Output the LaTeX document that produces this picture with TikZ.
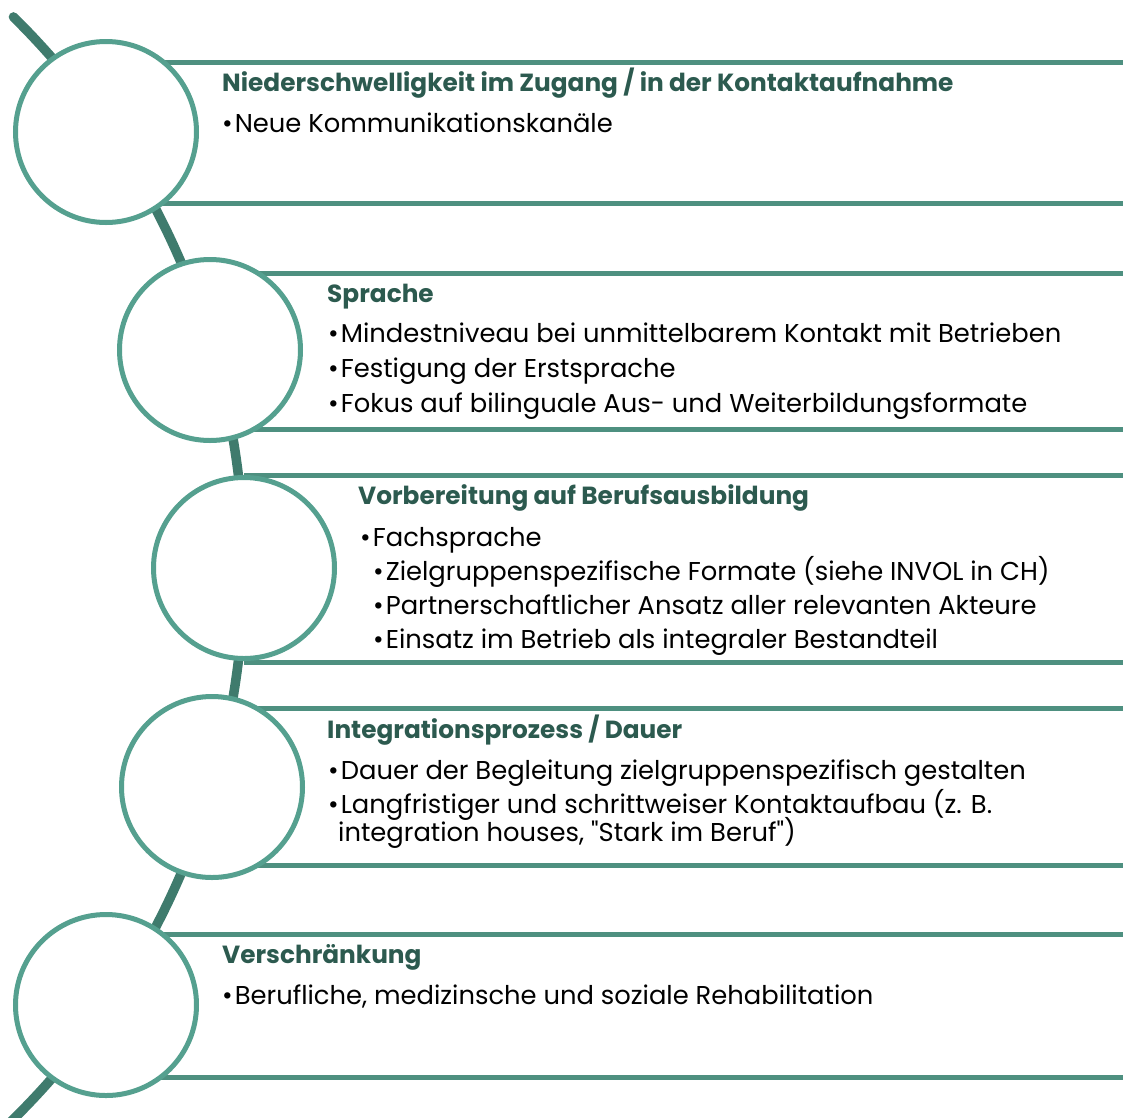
\documentclass[tikz,border=0pt]{standalone}
\usepackage{fontspec}
\setmainfont{Poppins}[Ligatures=TeXOff]
\definecolor{ringc}{HTML}{55A08F}
\definecolor{linec}{HTML}{4E9080}
\definecolor{arcc}{HTML}{3F7B6D}
\definecolor{headc}{HTML}{2C5A4F}
\newcommand\bul{\textbullet\hspace{2pt}}
\begin{document}
\begin{tikzpicture}[x=1pt,y=-1pt,
  ring/.style={circle,draw=ringc,line width=5pt,fill=white,minimum size=181pt,inner sep=0pt},
  band/.style={draw=linec,line width=5pt},
  spine/.style={draw=arcc,line width=9.5pt,line cap=round},
  head/.style={anchor=base west,inner sep=0pt,font=\fontsize{24.8}{30}\selectfont\bfseries,text=headc},
  body/.style={anchor=base west,inner sep=0pt,font=\fontsize{25.8}{30}\selectfont,text=black}]
\useasboundingbox (0,0) rectangle (1123,1117);
\begin{scope}
\clip (0,0) rectangle (1123,1117);
\draw[spine] (-530,568) ++(-45.4:774) arc[start angle=-45.4,end angle=46,radius=774];
\end{scope}
% bands
\foreach \y/\x in {62/106,203/106,273/210,429/210,475/244,662/244,708/212,865/212,934/106,1077/106}
  \draw[band] (\x,\y) -- (1123,\y);
% circles
\node[ring] (c1) at (106,132) {};
\node[ring] (c2) at (210,350) {};
\node[ring] (c3) at (244,568) {};
\node[ring] (c4) at (212,787) {};
\node[ring] (c5) at (106,1005) {};
% texts
\node[head] (h1) at (222,91) {Niederschwelligkeit im Zugang / in der Kontaktaufnahme};
\node[body] (b11) at (222,132) {\bul Neue Kommunikationskanäle};
\node[head] (h2) at (327,302) {Sprache};
\node[body] (b21) at (328,342) {\bul Mindestniveau bei unmittelbarem Kontakt mit Betrieben};
\node[body] (b22) at (328,377) {\bul Festigung der Erstsprache};
\node[body] (b23) at (328,412) {\bul Fokus auf bilinguale Aus- und Weiterbildungsformate};
\node[head] (h3) at (358,504) {Vorbereitung auf Berufsausbildung};
\node[body] (b31) at (360,546) {\bul Fachsprache};
\node[body] (b32) at (373,580) {\bul Zielgruppenspezifische Formate (siehe INVOL in CH)};
\node[body] (b33) at (373,614) {\bul Partnerschaftlicher Ansatz aller relevanten Akteure};
\node[body] (b34) at (373,648) {\bul Einsatz im Betrieb als integraler Bestandteil};
\node[head] (h4) at (327,738) {Integrationsprozess / Dauer};
\node[body] (b41) at (328,779) {\bul Dauer der Begleitung zielgruppenspezifisch gestalten};
\node[body] (b42) at (328,813) {\bul Langfristiger und schrittweiser Kontaktaufbau (z. B.};
\node[body] (b43) at (338,841) {integration houses, "Stark im Beruf")};
\node[head] (h5) at (222,963) {Verschränkung};
\node[body] (b51) at (222,1004) {\bul Berufliche, medizinsche und soziale Rehabilitation};
\end{tikzpicture}
\end{document}
